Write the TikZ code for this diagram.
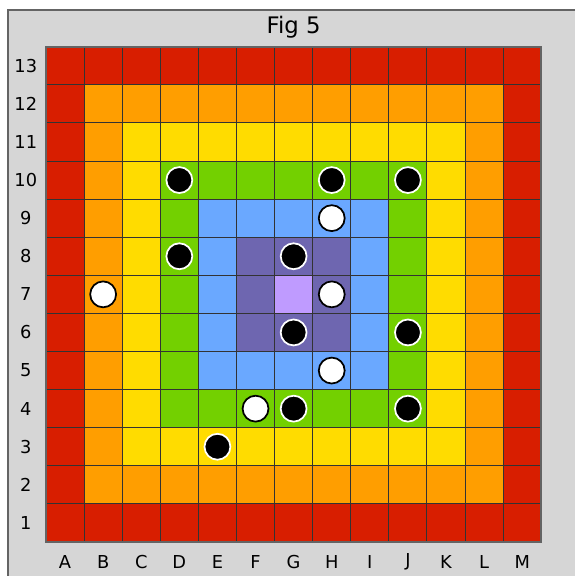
\documentclass[tikz,border=0pt]{standalone}
\usepackage{fontspec}
\setmainfont{DejaVu Sans}
\definecolor{ringred}{RGB}{216,30,0}
\definecolor{ringorange}{RGB}{255,158,0}
\definecolor{ringyellow}{RGB}{255,220,0}
\definecolor{ringgreen}{RGB}{115,208,0}
\definecolor{ringblue}{RGB}{106,168,255}
\definecolor{ringpurple}{RGB}{110,102,176}
\definecolor{ringlilac}{RGB}{191,155,255}
\definecolor{panelgray}{RGB}{214,214,214}
\definecolor{framegray}{RGB}{100,100,100}
\begin{document}
\begin{tikzpicture}[
          x=1cm, y=1cm,
          lbl/.style={font=\fontsize{13.3}{16}\selectfont, inner sep=0pt},
          stoneblack/.style={circle, fill=black, draw=white, line width=1.3pt,
                             minimum size=0.68cm, inner sep=0pt},
          stonewhite/.style={circle, fill=white, draw=black, line width=1.3pt,
                             minimum size=0.68cm, inner sep=0pt}
        ]
        \useasboundingbox (-1.207,-0.892) rectangle (13.885,14.226);
        % panel
        \fill[panelgray] (-0.997,-0.892) rectangle (13.885,13.963);
        \draw[framegray, line width=1.5pt] (-0.997,-0.892) |- (13.885,13.963);
        \node[font=\fontsize{17}{20}\selectfont] (title) at (6.5,13.52) {Fig 5};
        % rings
        \fill[ringred] (0,0) rectangle (13,13);
        \fill[ringorange] (1,1) rectangle (12,12);
        \fill[ringyellow] (2,2) rectangle (11,11);
        \fill[ringgreen] (3,3) rectangle (10,10);
        \fill[ringblue] (4,4) rectangle (9,9);
        \fill[ringpurple] (5,5) rectangle (8,8);
        \fill[ringlilac] (6,6) rectangle (7,7);
        \draw[black!80, line width=0.75pt] (0,0) grid (13,13);
        \draw[framegray, line width=1.5pt] (0,0) rectangle (13,13);
        % labels
        \foreach \c [count=\i from 0] in {A,B,C,D,E,F,G,H,I,J,K,L,M}
          \node[lbl] (col\c) at (\i+0.5,-0.52) {\c};
        \foreach \r in {1,...,13}
          \node[lbl] (row\r) at (-0.53,\r-0.5) {\r};
        % stones
        \foreach \c/\r in {D/10,H/10,J/10,D/8,G/8,G/6,J/6,G/4,J/4,E/3}
          \node[stoneblack] (s\c\r) at (col\c |- row\r) {};
        \foreach \c/\r in {H/9,B/7,H/7,H/5,F/4}
          \node[stonewhite] (s\c\r) at (col\c |- row\r) {};
      \end{tikzpicture}
\end{document}
